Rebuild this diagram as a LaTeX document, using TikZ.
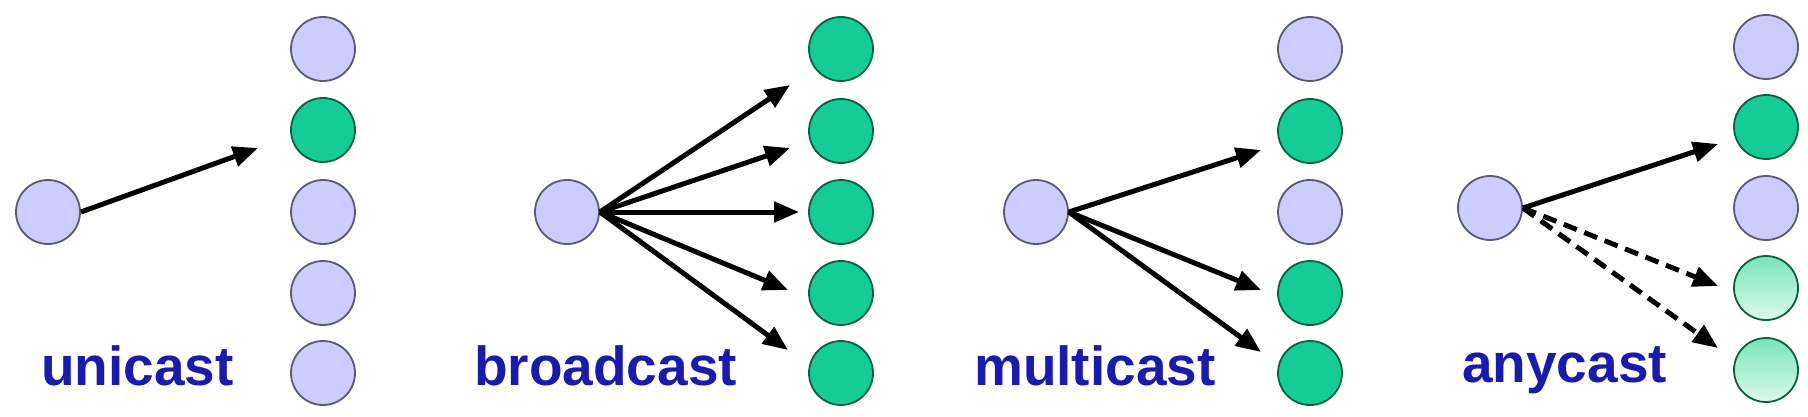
\documentclass[tikz,border=0pt]{standalone}
\usepackage{fontspec}
\setmainfont{Liberation Sans}
\usetikzlibrary{arrows.meta}
\definecolor{lav}{RGB}{204,204,255}
\definecolor{lavline}{RGB}{90,90,115}
\definecolor{grn}{RGB}{22,204,150}
\definecolor{grnline}{RGB}{15,95,65}
\definecolor{mintA}{RGB}{120,228,186}
\definecolor{mintB}{RGB}{222,249,237}
\definecolor{lbl}{RGB}{26,26,172}
\tikzset{
  host/.style={circle, minimum size=64pt, inner sep=0pt, line width=1.8pt},
  lavhost/.style={host, draw=lavline, fill=lav},
  grnhost/.style={host, draw=grnline, fill=grn},
  minthost/.style={host, draw=grnline, top color=mintA, bottom color=mintB},
  sendarrow/.style={line width=5pt, -{Triangle[length=25pt,width=20pt]}},
  dasharrow/.style={sendarrow, dash pattern=on 14pt off 8pt},
  caption/.style={anchor=base west, inner sep=0pt, text=lbl, font=\fontsize{55}{60}\selectfont\bfseries}
}
\begin{document}
\begin{tikzpicture}[x=1pt,y=-1pt]
\useasboundingbox (0,0) rectangle (1808,417);
\fill[white] (0,0) rectangle (1808,417);
% unicast
\node[lavhost] (us) at (48,212) {};
\node[lavhost] (u1) at (323,49) {};
\node[grnhost] (u2) at (323,130) {};
\node[lavhost] (u3) at (323,212) {};
\node[lavhost] (u4) at (323,293) {};
\node[lavhost] (u5) at (323,373) {};
\coordinate (ut) at (258,148);
\draw[sendarrow] (us.east) -- (ut);
\node[caption] (ul) at (41,385) {unicast};
% broadcast
\node[lavhost] (bs) at (567,212) {};
\node[grnhost] (b1) at (841,49) {};
\node[grnhost] (b2) at (841,131) {};
\node[grnhost] (b3) at (841,212) {};
\node[grnhost] (b4) at (841,293) {};
\node[grnhost] (b5) at (841,373) {};
\coordinate (bt1) at (790,85);
\coordinate (bt2) at (790,148);
\coordinate (bt3) at (799,212);
\coordinate (bt4) at (788,290);
\coordinate (bt5) at (788,350);
\foreach \t in {bt1,bt2,bt3,bt4,bt5}{\draw[sendarrow] (bs.east) -- (\t);}
\node[caption] (bl) at (474,385) {broadcast};
% multicast
\node[lavhost] (ms) at (1036,212) {};
\node[lavhost] (m1) at (1310,49) {};
\node[grnhost] (m2) at (1310,131) {};
\node[lavhost] (m3) at (1310,212) {};
\node[grnhost] (m4) at (1310,293) {};
\node[grnhost] (m5) at (1310,373) {};
\coordinate (mt1) at (1261,150);
\coordinate (mt2) at (1261,290);
\coordinate (mt3) at (1261,352);
\foreach \t in {mt1,mt2,mt3}{\draw[sendarrow] (ms.east) -- (\t);}
\node[caption] (ml) at (974,385) {multicast};
% anycast
\node[lavhost] (as) at (1490,208) {};
\node[lavhost] (a1) at (1766,47) {};
\node[grnhost] (a2) at (1766,127) {};
\node[lavhost] (a3) at (1766,208) {};
\node[minthost] (a4) at (1766,288) {};
\node[minthost] (a5) at (1766,370) {};
\coordinate (at1) at (1718,144);
\coordinate (at2) at (1718,286);
\coordinate (at3) at (1718,348);
\draw[sendarrow] (as.east) -- (at1);
\draw[dasharrow] (as.east) -- (at2);
\draw[dasharrow] (as.east) -- (at3);
\node[caption] (al) at (1462,382) {anycast};
\end{tikzpicture}
\end{document}
